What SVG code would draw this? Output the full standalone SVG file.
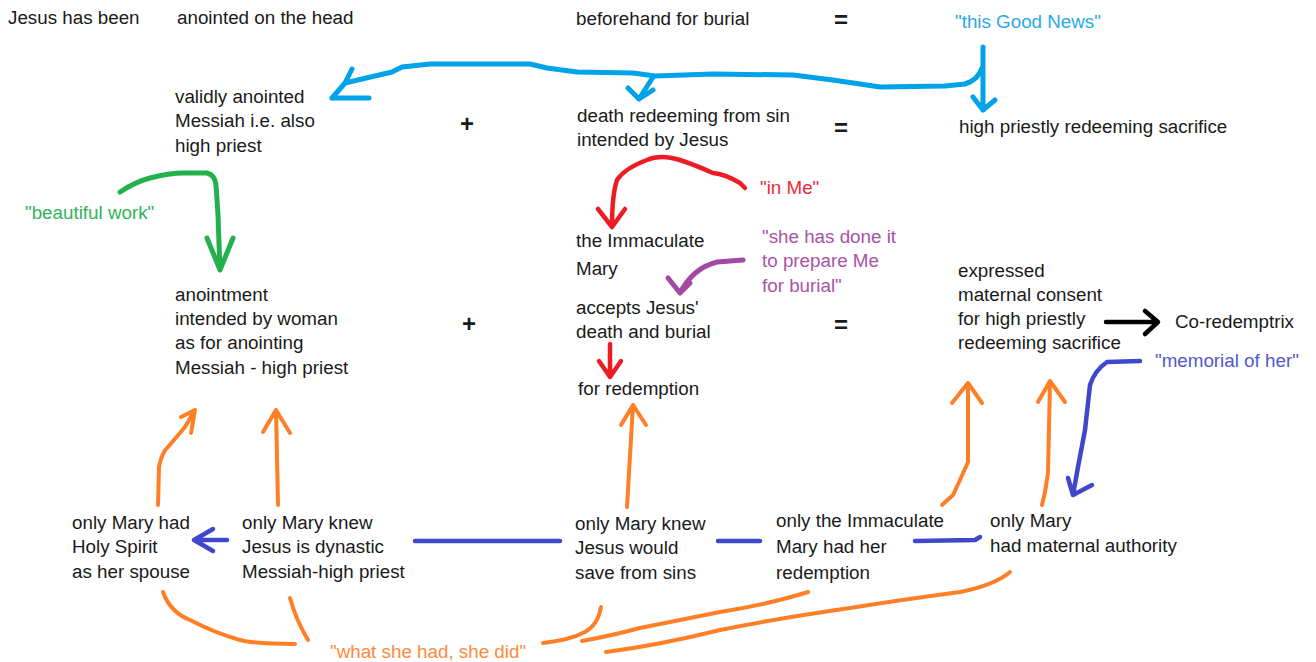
<svg xmlns="http://www.w3.org/2000/svg" width="1316" height="662" viewBox="0 0 1316 662">
<style>
text{font-family:"Liberation Sans",Arial,sans-serif;font-size:18.8px;fill:#1a1a1a}
.op{font-size:24px;font-weight:bold}
.s{fill:none;stroke-linecap:round;stroke-linejoin:round}
.b{stroke:#00A2E8;stroke-width:5}
.r{stroke:#ED1C24;stroke-width:4.5}
.g{stroke:#22B14C;stroke-width:5}
.p{stroke:#A349A4;stroke-width:5}
.o{stroke:#FF7F27;stroke-width:4}
.i{stroke:#3F48CC;stroke-width:4.5}
.k{stroke:#000;stroke-width:4.5}
</style>
<rect width="1316" height="662" fill="#fff"/>
<g id="connectors">
<path class="s b" d="M983,47 L983,110 M973,97 L983,110 L995,100"/>
<path class="s b" d="M982,68 Q978,80 965,84 L945,86 L880,87 L833,80 L793,75 L713,74 L655,76 L633,73 L577,72 L547,68 L530,64 L430,64 L402,67 L392,72 L345,83 L332,98 M352,69 L345,83 M332,98 L369,98"/>
<path class="s b" d="M653,77 L639,99 M628,88 L639,99 L653,90"/>
<path class="s r" d="M745,188 L740,183 Q725,174 713,173 Q695,165 680,160 Q660,154 647,160 Q625,168 617,180 Q612,195 612,226 M598,209 L612,227 L625,209"/>
<path class="s r" d="M610,344 L610,377 M599,361 L610,377 L621,361"/>
<path class="s p" d="M743,260 L717,262 Q693,268 680,293 M668,278 L680,293 L690,283"/>
<path class="s g" d="M120,192 Q135,182 150,178 Q170,173 183,173 L207,173 Q215,175 216,185 L218,215 L220,270 M207,238 L220,270 L233,238"/>
<path class="s o" d="M158,505 L159,467 Q162,452 168,447 L185,427 L195,410 M181,417 L195,410 L191,433"/>
<path class="s o" d="M278,505 L276,410 M263,432 L276,410 L290,433"/>
<path class="s o" d="M627,507 L633,405 M621,425 L633,405 L646,425"/>
<path class="s o" d="M942,505 L953,495 L960,480 L968,462 L968,383 M952,403 L968,383 L982,403"/>
<path class="s o" d="M1042,505 L1045,492 L1048,473 L1050,381 M1038,402 L1050,381 L1065,402"/>
<path class="s o" d="M163,592 Q170,612 190,620 Q215,633 240,640 Q255,644 295,644"/>
<path class="s o" d="M290,598 Q296,620 308,640"/>
<path class="s o" d="M601,607 Q598,625 585,632 Q570,640 543,643"/>
<path class="s o" d="M808,592 Q770,604 720,612 Q680,620 640,628 Q610,636 582,641"/>
<path class="s o" d="M1010,572 Q995,585 960,592 Q900,600 850,608 Q780,618 720,630 Q660,645 606,652"/>
<path class="s i" d="M1140,361 L1107,362 Q1095,370 1090,385 L1085,430 L1078,467 L1073,495 M1068,478 L1073,495 L1092,485"/>
<path class="s i" d="M227,540 L194,540 M213,529 L194,540 L213,551"/>
<path class="s i" d="M415,541 L560,541"/>
<path class="s i" d="M718,541 L760,541"/>
<path class="s i" d="M915,541 L975,540 L980,537"/>
<path class="s k" d="M1106,322 L1157,322 M1145,311 L1158,322 L1145,334"/>
</g>
<g id="n-top">
<text x="8" y="24">Jesus has been</text>
<text x="177" y="24">anointed on the head</text>
<text x="576" y="25">beforehand for burial</text>
<text class="op" x="834" y="28">=</text>
<text x="955" y="28" style="fill:#2aa9e6">"this Good News"</text>
</g>
<g id="n-validly"><text x="175" y="103">validly anointed</text><text x="175" y="127">Messiah i.e. also</text><text x="175" y="152">high priest</text></g>
<g id="op-plus1"><text class="op" x="460" y="132">+</text></g>
<g id="n-death"><text x="577" y="122">death redeeming from sin</text><text x="577" y="146">intended by Jesus</text></g>
<g id="op-eq1"><text class="op" x="834" y="136">=</text></g>
<g id="n-sacrifice"><text x="959" y="133">high priestly redeeming sacrifice</text></g>
<g id="n-inme"><text x="760" y="194" style="fill:#ee2a35">"in Me"</text></g>
<g id="n-beautiful"><text x="25" y="219" style="fill:#2fb45a">"beautiful work"</text></g>
<g id="n-immaculate"><text x="576" y="247">the Immaculate</text><text x="576" y="275">Mary</text></g>
<g id="n-prepare"><text x="762" y="243" style="fill:#a853a9">"she has done it</text><text x="762" y="267" style="fill:#a853a9">to prepare Me</text><text x="762" y="292" style="fill:#a853a9">for burial"</text></g>
<g id="n-accepts"><text x="576" y="314">accepts Jesus'</text><text x="576" y="338">death and burial</text></g>
<g id="n-anointment"><text x="175" y="301">anointment</text><text x="175" y="325">intended by woman</text><text x="175" y="349">as for anointing</text><text x="175" y="374">Messiah - high priest</text></g>
<g id="op-plus2"><text class="op" x="462" y="332">+</text></g>
<g id="op-eq2"><text class="op" x="834" y="333">=</text></g>
<g id="n-expressed"><text x="958" y="277">expressed</text><text x="958" y="301">maternal consent</text><text x="958" y="325">for high priestly</text><text x="958" y="349">redeeming sacrifice</text></g>
<g id="n-coredemptrix"><text x="1175" y="328">Co-redemptrix</text></g>
<g id="n-forredemption"><text x="578" y="395">for redemption</text></g>
<g id="n-memorial"><text x="1155" y="367" style="fill:#5058d0">"memorial of her"</text></g>
<g id="n-spirit"><text x="72" y="529">only Mary had</text><text x="72" y="553">Holy Spirit</text><text x="72" y="578">as her spouse</text></g>
<g id="n-dynastic"><text x="242" y="529">only Mary knew</text><text x="242" y="553">Jesus is dynastic</text><text x="242" y="578">Messiah-high priest</text></g>
<g id="n-save"><text x="575" y="530">only Mary knew</text><text x="575" y="554">Jesus would</text><text x="575" y="579">save from sins</text></g>
<g id="n-herredemption"><text x="776" y="527">only the Immaculate</text><text x="776" y="553">Mary had her</text><text x="776" y="579">redemption</text></g>
<g id="n-authority"><text x="990" y="527">only Mary</text><text x="990" y="552">had maternal authority</text></g>
<g id="n-whatshehad"><text x="330" y="658" style="fill:#ff8a3d">"what she had, she did"</text></g>
</svg>
